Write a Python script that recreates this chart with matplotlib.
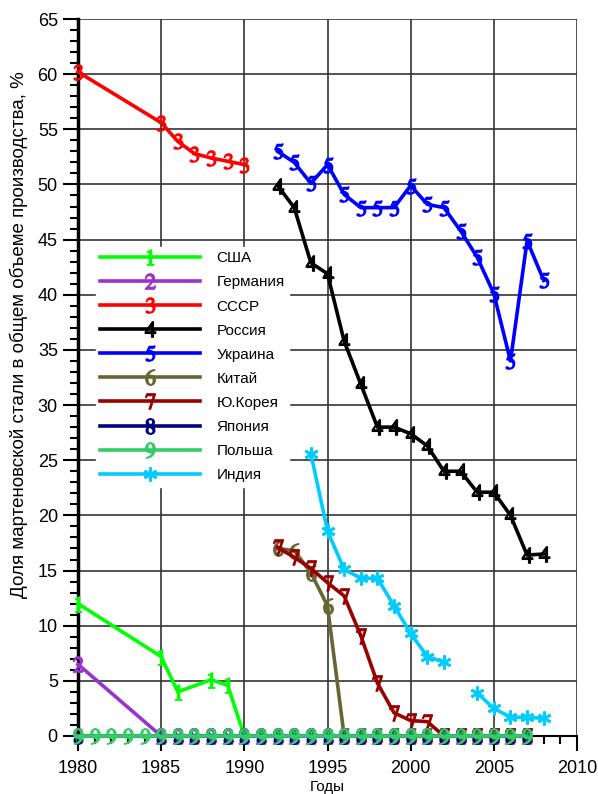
import matplotlib
matplotlib.use("Agg")
import matplotlib.pyplot as plt
from matplotlib.ticker import MultipleLocator

plt.rcParams['font.family'] = ['Liberation Sans', 'DejaVu Sans']
plt.rcParams['mathtext.fontset'] = 'stix'

# данные (доля мартеновской стали, %)
usa_years = [1980, 1985, 1986, 1988, 1989, 1990] + list(range(1991, 2008))
usa_vals = [12.0, 7.2, 4.0, 5.1, 4.6, 0.0] + [0.0] * 17

ger_years = [1980] + list(range(1985, 2008))
ger_vals = [6.5] + [0.0] * 23

ussr_years = [1980, 1985, 1986, 1987, 1988, 1989, 1990]
ussr_vals = [60.2, 55.6, 53.9, 52.8, 52.4, 52.1, 51.8]

rus_years = list(range(1992, 2009))
rus_vals = [49.9, 47.9, 42.9, 41.9, 35.8, 31.9, 28.0, 28.0, 27.4, 26.3,
            24.0, 24.0, 22.1, 22.1, 20.0, 16.4, 16.5]

ukr_years = list(range(1992, 2009))
ukr_vals = [53.0, 52.0, 50.1, 51.8, 49.1, 47.9, 47.9, 47.9, 49.9, 48.2,
            47.9, 45.8, 43.4, 40.1, 34.0, 44.9, 41.3]

chn_years = [1992, 1993, 1994, 1995] + list(range(1996, 2008))
chn_vals = [17.0, 16.8, 14.8, 11.8] + [0.0] * 12

kor_years = list(range(1992, 2008))
kor_vals = [17.1, 16.2, 15.2, 13.9, 12.7, 9.1, 4.8, 2.1, 1.4, 1.3,
            0.0, 0.0, 0.0, 0.0, 0.0, 0.0]

jap_years = [1980] + list(range(1985, 2008))
jap_vals = [0.0] * 24

pol_years = list(range(1980, 2008))
pol_vals = [0.0] * 28

ind_years = list(range(1994, 2003)) + list(range(2004, 2009))
ind_vals = [25.6, 18.6, 15.1, 14.3, 14.3, 11.8, 9.3, 7.2, 6.7,
            3.9, 2.5, 1.7, 1.7, 1.6]

series = [
    ("США", usa_years, usa_vals, "#00ff00", "$1$"),
    ("Германия", ger_years, ger_vals, "#9933cc", "$2$"),
    ("СССР", ussr_years, ussr_vals, "#ff0000", "$3$"),
    ("Россия", rus_years, rus_vals, "#000000", "$4$"),
    ("Украина", ukr_years, ukr_vals, "#0000ff", "$5$"),
    ("Китай", chn_years, chn_vals, "#666633", "$6$"),
    ("Ю.Корея", kor_years, kor_vals, "#990000", "$7$"),
    ("Япония", jap_years, jap_vals, "#000080", "$8$"),
    ("Польша", pol_years, pol_vals, "#33cc66", "$9$"),
]

fig = plt.figure(figsize=(5.98, 7.94), dpi=100)
ax = fig.add_axes([78 / 598, 1 - 736 / 794, 499 / 598, 717 / 794])

for i, (name, xs, ys, col, mk) in enumerate(series):
    ax.plot(xs, ys, color=col, lw=2.6, marker=mk, ms=11, mec=col, mfc=col,
            label=name, clip_on=False, zorder=3 + i)

# Индия: разрыв в 2003 г.
ax.plot(ind_years[:9], ind_vals[:9], color="#00ccff", lw=2.6,
        marker=(6, 2, 0), ms=10, mew=2, label="Индия", zorder=3)
ax.plot(ind_years[9:], ind_vals[9:], color="#00ccff", lw=2.6,
        marker=(6, 2, 0), ms=10, mew=2, zorder=3)

ax.set_xlim(1980, 2010)
ax.set_ylim(0, 65)
ax.xaxis.set_major_locator(MultipleLocator(5))
ax.xaxis.set_minor_locator(MultipleLocator(1))
ax.yaxis.set_major_locator(MultipleLocator(5))
ax.yaxis.set_minor_locator(MultipleLocator(1))
ax.grid(True, which="major", color="#333333", lw=1.2)
ax.set_axisbelow(True)

for s in ["top", "right"]:
    ax.spines[s].set_visible(False)
ax.spines["left"].set_linewidth(2.5)
ax.spines["bottom"].set_linewidth(1.5)

ax.tick_params(axis="both", which="major", labelsize=13, length=11,
               width=1.5, direction="out")
ax.tick_params(axis="both", which="minor", length=6, width=1.5,
               direction="out")
ax.tick_params(axis="x", pad=6)

ax.set_ylabel("Доля мартеновской стали в общем объеме производства, %",
              fontsize=13.5)
ax.yaxis.set_label_coords(-0.10, 0.56)
ax.set_xlabel("Годы", fontsize=11)
ax.xaxis.set_label_coords(0.5, -0.062)

leg = ax.legend(loc="upper left", bbox_to_anchor=(0.02, 0.693),
                fontsize=11, handlelength=6.5, handletextpad=1.1,
                labelspacing=0.66, frameon=True, fancybox=False,
                edgecolor="white", facecolor="white", framealpha=1,
                numpoints=1, borderpad=0.3)
leg.set_zorder(20)

fig.savefig("out.png", dpi=100)
